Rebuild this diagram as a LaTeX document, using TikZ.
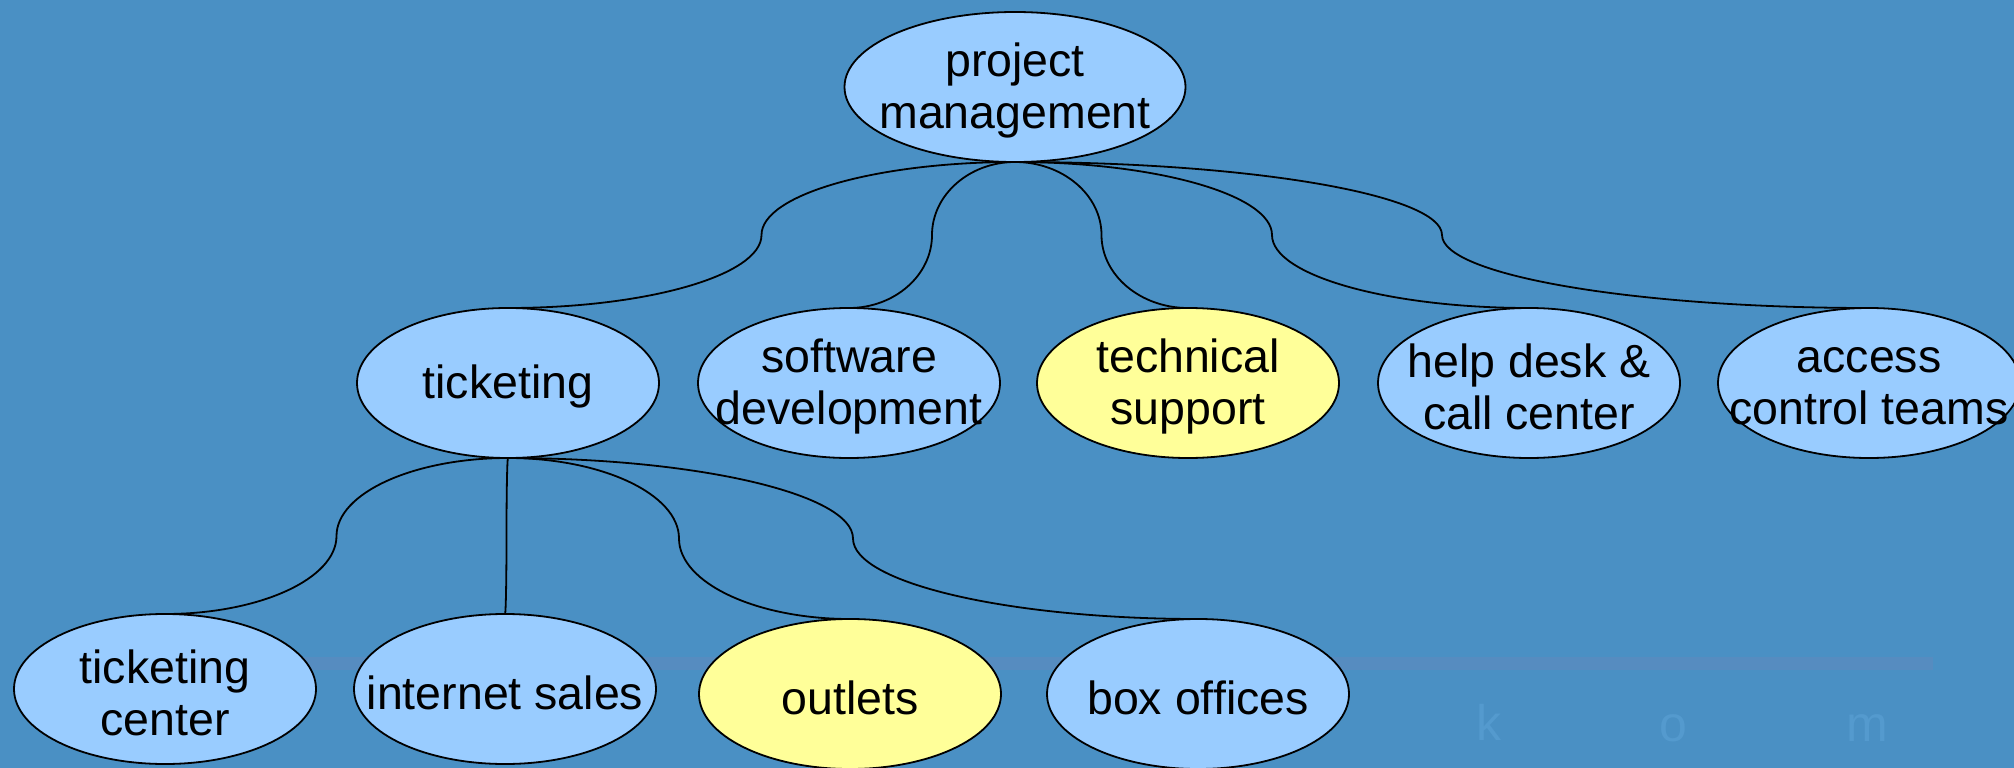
\documentclass[tikz,border=0pt]{standalone}
\usepackage{fontspec}
\setmainfont{Liberation Sans}
\usetikzlibrary{shapes.geometric,calc}
\definecolor{bgblue}{RGB}{74,144,196}
\definecolor{nodeblue}{RGB}{153,204,255}
\definecolor{nodeyellow}{RGB}{255,255,153}
\definecolor{wmband}{RGB}{86,140,192}
\definecolor{wmtext}{RGB}{84,154,206}
\tikzset{
  ell/.style={ellipse, draw=black, line width=1.8pt, fill=nodeblue,
    minimum width=302pt, minimum height=150pt, inner sep=0pt, outer sep=0pt},
  ellY/.style={ell, fill=nodeyellow},
  ellbig/.style={ell, minimum width=341pt},
  txt/.style={align=center, inner sep=0pt, text=black, yshift=-3.5pt,
    font=\fontsize{46.5}{52}\selectfont},
  conn/.style={draw=black, line width=1.8pt},
  wm/.style={text=wmtext, inner sep=0pt, font=\fontsize{50}{50}\selectfont}
}
\newcommand\linkto[2]{%
  \draw[conn] let \p1=(#1.south), \p2=(#2.north), \p3=($(\p1)!0.5!(\p2)$) in
    (\p1) .. controls ({\x1+0.55*(\x3-\x1)},\y1) and (\x3,{\y3-0.55*(\y3-\y1)}) .. (\p3)
    .. controls (\x3,{\y3+0.55*(\y2-\y3)}) and ({\x2+0.55*(\x3-\x2)},\y2) .. (\p2);}
\begin{document}
\begin{tikzpicture}[x=1pt,y=-1pt]
  \useasboundingbox (0,0) rectangle (2014,768);
  \fill[bgblue] (0,0) rectangle (2014,768);
  % faint watermark
  \fill[wmband] (140,657) rectangle (1933,670);
  \node[wm] (wk) at (1489,722) {k};
  \node[wm] (wo) at (1673,728) {o};
  \node[wm] (wm) at (1867,728) {m};
  % level 0
  \node[ellbig, label={[txt]center:project\\management}] (pm) at (1015,87) {};
  % level 1
  \node[ell,  label={[txt]center:ticketing}] (tk) at (508,383) {};
  \node[ell,  label={[txt]center:software\\development}] (sd) at (849,383) {};
  \node[ellY, label={[txt]center:technical\\support}] (ts) at (1188,383) {};
  \node[ell,  label={[txt]center:help desk \&\\call center}] (hd) at (1529,383) {};
  \node[ell,  label={[txt]center:access\\control teams}] (ac) at (1869,383) {};
  % level 2
  \node[ell,  label={[txt]center:ticketing\\center}] (tc) at (165,689) {};
  \node[ell,  label={[txt]center:internet sales}] (is) at (505,689) {};
  \node[ellY, label={[txt]center:outlets}] (ou) at (850,694) {};
  \node[ell,  label={[txt]center:box offices}] (bo) at (1198,694) {};
  % connectors
  \linkto{pm}{tk}
  \linkto{pm}{sd}
  \linkto{pm}{ts}
  \linkto{pm}{hd}
  \linkto{pm}{ac}
  \linkto{tk}{tc}
  \linkto{tk}{is}
  \linkto{tk}{ou}
  \linkto{tk}{bo}
\end{tikzpicture}
\end{document}
